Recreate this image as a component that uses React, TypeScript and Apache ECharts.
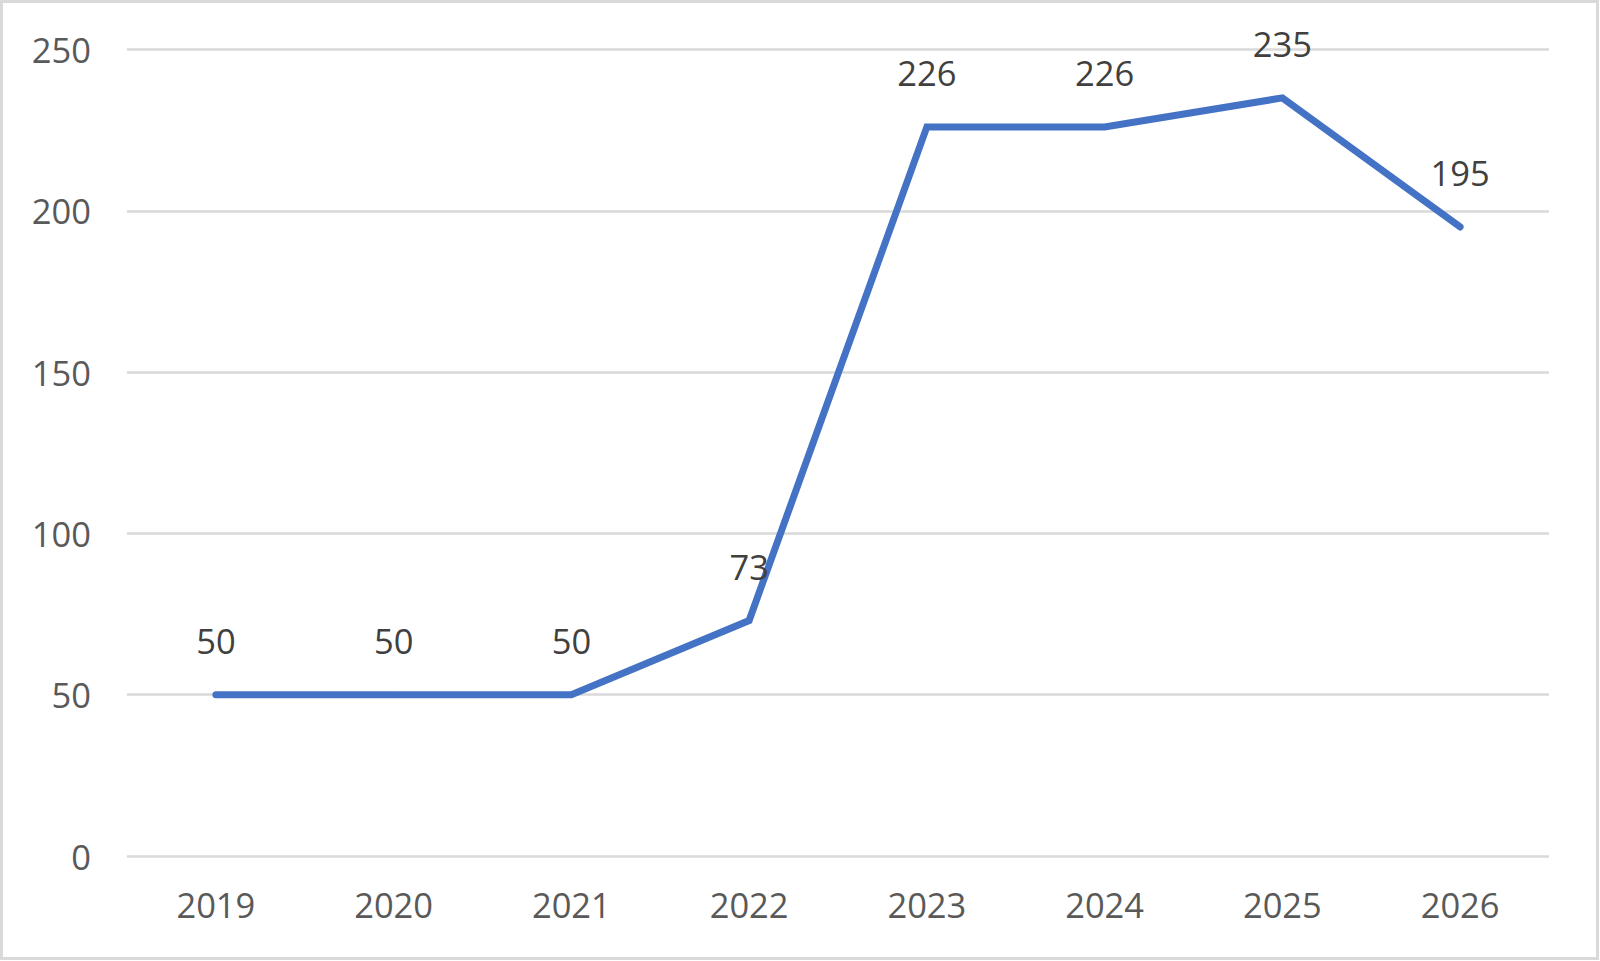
import React, { useEffect, useRef } from "react";
import * as echarts from "echarts";

const categories = ["2019", "2020", "2021", "2022", "2023", "2024", "2025", "2026"];
const values = [50, 50, 50, 73, 226, 226, 235, 195];
const yTicks = { min: 0, max: 250, interval: 50 };

export default function App() {
  const ref = useRef<HTMLDivElement>(null);
  useEffect(() => {
    if (!ref.current) return;
    const chart = echarts.init(ref.current, null, { renderer: "svg" });
    const font = "'Open Sans', 'Noto Sans', sans-serif";
    chart.setOption({
      animation: false,
      backgroundColor: "#ffffff",
      grid: { left: 127, top: 49.5, width: 1422, height: 806.5, containLabel: false },
      graphic: [
        {
          type: "rect",
          shape: { x: 1.5, y: 1.5, width: 1596, height: 957 },
          style: { fill: "none", stroke: "#d9d9d9", lineWidth: 3 },
          silent: true,
        },
      ],
      xAxis: {
        type: "category",
        data: categories,
        boundaryGap: true,
        axisLine: { show: false },
        axisTick: { show: false },
        axisLabel: { color: "#595959", fontSize: 34.5, fontFamily: font, margin: 31 },
      },
      yAxis: {
        type: "value",
        min: yTicks.min,
        max: yTicks.max,
        interval: yTicks.interval,
        axisLine: { show: false },
        axisTick: { show: false },
        axisLabel: { color: "#595959", fontSize: 34.5, fontFamily: font, margin: 36 },
        splitLine: { lineStyle: { color: "#d9d9d9", width: 2.5 } },
      },
      series: [
        {
          type: "line",
          data: values,
          symbol: "circle",
          symbolSize: 1,
          showSymbol: true,
          itemStyle: { color: "#4472c4" },
          lineStyle: { color: "#4472c4", width: 7, cap: "round", join: "miter" },
          label: {
            show: true,
            position: "top",
            distance: 36,
            color: "#404040",
            fontSize: 34.5,
            fontFamily: font,
            lineHeight: 36,
          },
        },
      ],
    });
    return () => chart.dispose();
  }, []);
  return (
    <div
      ref={ref}
      style={{ position: "absolute", left: 0, top: 0, width: 1600, height: 961 }}
    />
  );
}
